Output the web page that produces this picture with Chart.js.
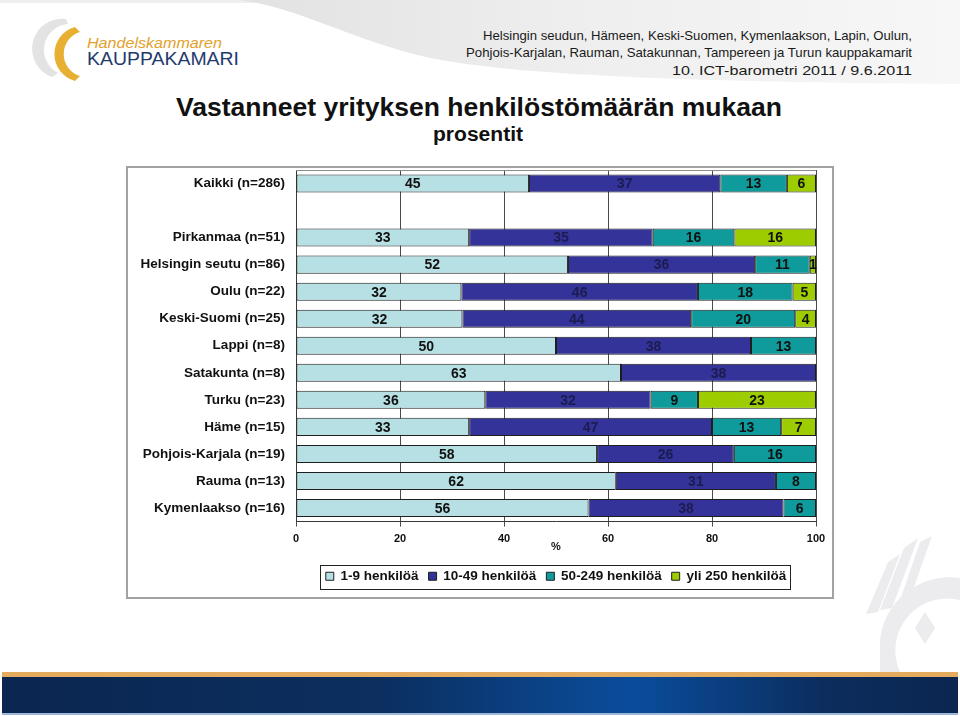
<!DOCTYPE html>
<html>
<head>
<meta charset="utf-8">
<script src="https://cdn.jsdelivr.net/npm/chart.js@4.4.1/dist/chart.umd.min.js"></script>
<style>
  html, body { margin:0; padding:0; background:#fff; }
  body { width:960px; height:716px; position:relative; overflow:hidden; font-family:"Liberation Sans", Arial, sans-serif; }
  #deco { position:absolute; left:0; top:0; }
  #frame { position:absolute; left:126px; top:166px; width:704px; height:429px; border:2px solid #a2a2a2; background:#fff; }
  #frame canvas { display:block; }
</style>
</head>
<body>
<script>
// ---- chart data ----
const categories = ['Kaikki (n=286)', '', 'Pirkanmaa (n=51)', 'Helsingin seutu (n=86)', 'Oulu (n=22)',
  'Keski-Suomi (n=25)', 'Lappi (n=8)', 'Satakunta (n=8)', 'Turku (n=23)', 'Häme (n=15)',
  'Pohjois-Karjala (n=19)', 'Rauma (n=13)', 'Kymenlaakso (n=16)'];
const seriesNames = ['1-9 henkilöä', '10-49 henkilöä', '50-249 henkilöä', 'yli 250 henkilöä'];
const size1to9    = [44.8, null, 33.3, 52.3, 31.8, 32, 50,   62.5, 36.4, 33.3, 57.9, 61.5, 56.25];
const size10to49  = [36.8, null, 35.3, 36.0, 45.5, 44, 37.5, 37.5, 31.8, 46.7, 26.3, 30.8, 37.5];
const size50to249 = [12.8, null, 15.7, 10.5, 18.2, 20, 12.5, 0,    9.1,  13.3, 15.8, 7.7,  6.25];
const size250plus = [5.6,  null, 15.7, 1.2,  4.5,  4,  0,    0,    22.7, 6.7,  0,    0,    0];
const xTicks = [0, 20, 40, 60, 80, 100];
const axisTitle = '%';
</script>

<svg id="deco" width="960" height="716" xmlns="http://www.w3.org/2000/svg">
  <defs>
    <linearGradient id="swoosh" x1="0" y1="0" x2="1" y2="0">
      <stop offset="0" stop-color="#e2e2e2"/>
      <stop offset="0.45" stop-color="#eeeeee"/>
      <stop offset="1" stop-color="#f7f7f7"/>
    </linearGradient>
    <linearGradient id="band" x1="0" y1="0" x2="1" y2="0">
      <stop offset="0" stop-color="#0b2650"/>
      <stop offset="0.4" stop-color="#0c2f60"/>
      <stop offset="0.66" stop-color="#0a4d9c"/>
      <stop offset="0.86" stop-color="#0c2d5e"/>
      <stop offset="1" stop-color="#0b2650"/>
    </linearGradient>
  </defs>
  <!-- header swoosh -->
  <rect x="0" y="0" width="960" height="3" fill="#eeeeee"/>
  <path d="M240,0 C300,8 350,40 430,58 C520,76 700,82 960,84 L960,0 Z" fill="url(#swoosh)"/>
  <!-- logo -->
  <path d="M66,19 A30,30 0 0 0 52,77 L58,73 A26,26 0 0 1 68,24 Z" fill="#e3e3e3"/>
  <path d="M75,27 A28,28 0 0 0 75,81 L80,76 A23,23 0 0 1 80,32 Z" fill="#e8b033"/>
  <text x="87" y="48" font-family="'Liberation Sans', Arial, sans-serif" font-style="italic" font-size="14.5" fill="#e2a12a" textLength="135" lengthAdjust="spacingAndGlyphs">Handelskammaren</text>
  <text x="87" y="65" font-family="'Liberation Sans', Arial, sans-serif" font-size="18.5" fill="#1f3a6c" textLength="152" lengthAdjust="spacingAndGlyphs">KAUPPAKAMARI</text>
  <!-- header text -->
  <g font-family="'Liberation Sans', Arial, sans-serif" font-size="13" fill="#1a1a1a" text-anchor="end">
    <text x="912" y="40" textLength="429" lengthAdjust="spacingAndGlyphs">Helsingin seudun, Hämeen, Keski-Suomen, Kymenlaakson, Lapin, Oulun,</text>
    <text x="912" y="57" textLength="446" lengthAdjust="spacingAndGlyphs">Pohjois-Karjalan, Rauman, Satakunnan, Tampereen ja Turun kauppakamarit</text>
    <text x="912" y="75" textLength="240" lengthAdjust="spacingAndGlyphs">10. ICT-barometri 2011 / 9.6.2011</text>
  </g>
  <!-- title -->
  <text x="176" y="116" font-family="'Liberation Sans', Arial, sans-serif" font-weight="bold" font-size="26" fill="#111" textLength="606" lengthAdjust="spacingAndGlyphs">Vastanneet yrityksen henkilöstömäärän mukaan</text>
  <text x="433" y="141" font-family="'Liberation Sans', Arial, sans-serif" font-weight="bold" font-size="20" fill="#111" textLength="90" lengthAdjust="spacingAndGlyphs">prosentit</text>
  <!-- watermark bottom right -->
  <g fill="#ececef">
    <polygon points="904,548 918,538 892,608 880,610"/>
    <polygon points="888,562 900,554 878,612 866,614"/>
    <polygon points="920,542 932,536 908,604 898,606"/>
    <path d="M960,578 A70,70 0 0 0 880,640 L880,672 L900,672 A52,52 0 0 1 960,600 Z"/>
    <polygon points="915,628 925,612 935,628 925,644"/>
  </g>
  <!-- bottom band -->
  <rect x="2" y="672" width="956" height="5" fill="#e4aa5e"/>
  <rect x="2" y="677" width="956" height="36" fill="url(#band)"/>
  <rect x="2" y="713" width="956" height="2" fill="#9db7d9"/>
</svg>

<div id="frame"><canvas id="c" width="704" height="429"></canvas></div>

<script>
const colors = ['#b6e0e4', '#333399', '#0f9a9b', '#9dcc00'];
const labelColors = ['#111111', '#1c1c50', '#111111', '#111111'];
const seriesData = [size1to9, size10to49, size50to249, size250plus];
const FONT = '"Liberation Sans", Arial, sans-serif';

const segmentLabels = {
  id: 'segmentLabels',
  afterDatasetsDraw(chart) {
    const ctx = chart.ctx;
    ctx.save();
    ctx.font = 'bold 14px ' + FONT;
    ctx.textAlign = 'center';
    ctx.textBaseline = 'middle';
    chart.data.datasets.forEach((ds, i) => {
      const meta = chart.getDatasetMeta(i);
      meta.data.forEach((bar, j) => {
        const v = ds.data[j];
        if (!v) return;
        const p = bar.getProps(['x', 'y', 'base'], true);
        ctx.fillStyle = labelColors[i];
        ctx.fillText(String(Math.round(v)), (p.x + p.base) / 2, p.y + 1);
      });
    });
    ctx.restore();
  }
};

const plotTopLine = {
  id: 'plotTopLine',
  beforeDatasetsDraw(chart) {
    const {ctx, chartArea: a} = chart;
    ctx.save();
    ctx.strokeStyle = '#8c8c8c';
    ctx.lineWidth = 1;
    ctx.beginPath();
    ctx.moveTo(a.left, a.top + 0.5);
    ctx.lineTo(a.right, a.top + 0.5);
    ctx.stroke();
    ctx.restore();
  }
};

const legendBox = {
  id: 'legendBox',
  afterDraw(chart) {
    const lg = chart.legend;
    if (!lg || !lg.legendHitBoxes || !lg.legendHitBoxes.length) return;
    let l = Infinity, r = -Infinity, t = Infinity, b = -Infinity;
    lg.legendHitBoxes.forEach(h => {
      l = Math.min(l, h.left); r = Math.max(r, h.left + h.width);
      t = Math.min(t, h.top); b = Math.max(b, h.top + h.height);
    });
    const ctx = chart.ctx;
    ctx.save();
    ctx.strokeStyle = '#222';
    ctx.lineWidth = 1;
    ctx.strokeRect(Math.round(l - 6) + 0.5, Math.round(t - 5) + 0.5, Math.round(r - l + 10), Math.round(b - t + 10));
    ctx.restore();
  }
};

new Chart(document.getElementById('c'), {
  type: 'bar',
  data: {
    labels: categories,
    datasets: seriesNames.map((name, i) => ({
      label: name,
      data: seriesData[i],
      backgroundColor: colors[i],
      borderColor: '#1e1e1e',
      borderWidth: c => (c.raw === 0 ? 0 : 1),
      borderSkipped: false,
      categoryPercentage: 1,
      barPercentage: 0.667
    }))
  },
  options: {
    indexAxis: 'y',
    responsive: false,
    animation: false,
    layout: { padding: { left: 0, right: 16, top: 2, bottom: 4 } },
    scales: {
      x: {
        stacked: true,
        min: 0, max: 100,
        afterBuildTicks: s => { s.ticks = xTicks.map(v => ({ value: v })); },
        afterFit: s => { s.height = 38; s.paddingLeft = 0; s.paddingRight = 0; },
        grid: { color: '#4a4a4a', lineWidth: 1, drawTicks: true, tickLength: 5, tickColor: '#4a4a4a' },
        border: { display: true, color: '#3a3a3a', width: 1 },
        ticks: { padding: 6, color: '#111', font: { family: FONT, size: 11, weight: 'bold' } },
        title: { display: true, text: axisTitle, color: '#111', padding: { top: 0, bottom: 6 },
                 font: { family: FONT, size: 11, weight: 'bold' } }
      },
      y: {
        stacked: true,
        afterFit: s => { s.width = 168; s.paddingTop = 0; s.paddingBottom = 0; },
        grid: { display: false, drawTicks: false },
        border: { display: true, color: '#3a3a3a', width: 1 },
        ticks: { autoSkip: false, padding: 11, color: '#111', font: { family: FONT, size: 13.5, weight: 'bold' } }
      }
    },
    plugins: {
      legend: {
        position: 'bottom',
        fullSize: false,
        labels: { boxWidth: 8, boxHeight: 8, padding: 10, color: '#111',
                  font: { family: FONT, size: 13.5, weight: 'bold' } }
      },
      tooltip: { enabled: false },
      title: { display: false }
    }
  },
  plugins: [plotTopLine, segmentLabels, legendBox]
});
</script>
</body>
</html>
